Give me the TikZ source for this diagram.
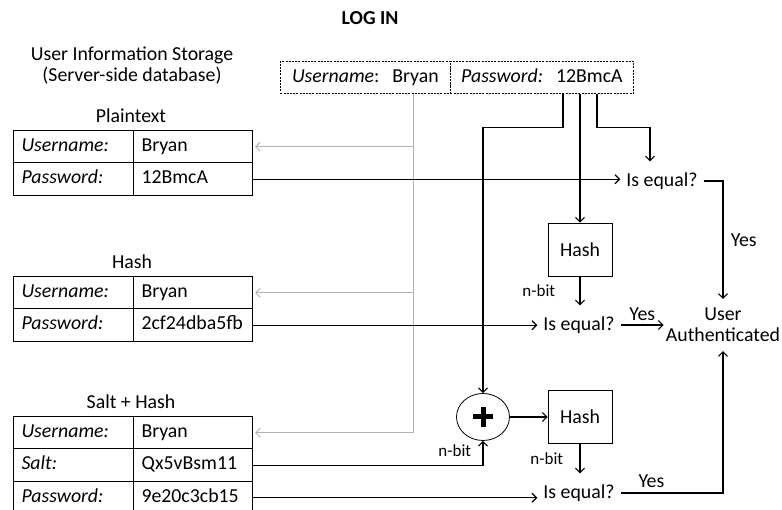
\documentclass[tikz,border=0pt]{standalone}
\usepackage{fontspec}
\setmainfont{Carlito}
\usetikzlibrary{arrows.meta}
\usetikzlibrary{shapes.geometric}
\usetikzlibrary{calc}
\newcommand{\bigfont}{\fontsize{19.8}{21}\selectfont}
\newcommand{\smallfont}{\fontsize{17}{19}\selectfont}
\tikzset{
  cell/.style={draw, line width=1pt, anchor=north west, minimum height=32.5pt, inner xsep=8pt, inner ysep=0pt, text height=13.5pt, text depth=4pt, align=left, font=\bigfont},
  keycell/.style={cell, text width=104pt, font=\bigfont\itshape},
  valcell/.style={cell, text width=103pt},
  login/.style={draw, line width=0.8pt, dash pattern=on 2pt off 1.2pt, anchor=north west, minimum height=32pt, inner sep=0pt, text height=13.5pt, text depth=4pt, font=\bigfont},
  hashbox/.style={draw, line width=0.8pt, minimum width=64pt, minimum height=53pt, font=\bigfont},
  check/.style={inner xsep=6pt, inner ysep=11pt, font=\bigfont},
  lbl/.style={font=\bigfont},
  bits/.style={font=\smallfont},
  conn/.style={line width=1.1pt},
  arr/.style={conn, ->},
  grayarr/.style={line width=1pt, draw=black!30, ->, shorten >=2pt},
}

\begin{document}
\begin{tikzpicture}[x=1pt,y=-1pt,>={Straight Barb[length=4.5pt,width=9pt]}]
        \useasboundingbox (0,0) rectangle (782,510);

        %%% HEADINGS %%%
        \node[lbl, font=\bigfont\bfseries] (title) at (370,18) {LOG IN};
        \node[lbl, align=center] (store) at (132,66) {User Information Storage\\(Server-side database)};
        \node[lbl] (ptT) at (131,116) {Plaintext};
        \node[lbl] (hT) at (132,262) {Hash};
        \node[lbl] (shT) at (131,402) {Salt + Hash};

        %%% TABLES %%%
        \node[keycell] (ptUk) at (13,130) {Username:};
        \node[valcell] (ptUv) at (133,130) {Bryan};
        \node[keycell] (ptPk) at (13,162.5) {Password:};
        \node[valcell] (ptPv) at (133,162.5) {12BmcA};

        \node[keycell] (hUk) at (13,276) {Username:};
        \node[valcell] (hUv) at (133,276) {Bryan};
        \node[keycell] (hPk) at (13,308.5) {Password:};
        \node[valcell] (hPv) at (133,308.5) {2cf24dba5fb};

        \node[keycell] (shUk) at (13,416) {Username:};
        \node[valcell] (shUv) at (133,416) {Bryan};
        \node[keycell] (shSk) at (13,448.5) {Salt:};
        \node[valcell] (shSv) at (133,448.5) {Qx5vBsm11};
        \node[keycell] (shPk) at (13,481) {Password:};
        \node[valcell] (shPv) at (133,481) {9e20c3cb15};

        %%% LOGIN INPUT %%%
        \node[login, minimum width=170pt] (usr) at (280,61) {\textit{Username}:\hspace{13pt}Bryan};
        \node[login, minimum width=183pt] (pw) at (450,61) {\textit{Password:}\hspace{13pt}12BmcA};
        \coordinate (gtop) at ($(usr.south west)+(133,0)$);
        \coordinate (pa) at ($(pw.south west)+(113,0)$);
        \coordinate (pb) at ($(pw.south west)+(130,0)$);
        \coordinate (pc) at ($(pw.south west)+(147,0)$);

        %%% CHECKS %%%
        \node[check] (eq1) at (662,181) {Is equal?};
        \node[hashbox] (h1) at (580,249.5) {Hash};
        \node[check] (eq2) at (579,325) {Is equal?};
        \node[draw, line width=0.8pt, ellipse, minimum width=53pt, minimum height=47pt, inner sep=0pt] (plus) at (483,417) {};
        \draw[line width=5pt] ([xshift=-10pt]plus.center) -- ([xshift=10pt]plus.center);
        \draw[line width=5pt] ([yshift=-10pt]plus.center) -- ([yshift=10pt]plus.center);
        \node[hashbox] (h2) at (580,417) {Hash};
        \node[check] (eq3) at (579,493) {Is equal?};
        \node[lbl, align=center, inner xsep=2pt, inner ysep=9pt] (auth) at (723,325) {User\\Authenticated};

        %%% USERNAME LOOKUP %%%
        \draw[line width=1pt, black!30] (gtop) -- (gtop |- shUv.east);
        \foreach \row in {ptUv,hUv,shUv}
            \draw[grayarr] (gtop |- \row.east) -- (\row.east);

        %%% PASSWORD PATHS %%%
        \draw[arr] (pa) -- ++(0,34) -| (plus.north);
        \draw[arr] (pb) -- (h1.north);
        \draw[arr] (pc) -- ++(0,34) -| ([xshift=-12pt]eq1.north);
        \draw[arr] (ptPv.east) -- (ptPv.east -| eq1.west);
        \draw[arr] (hPv.east) -- (hPv.east -| eq2.west);
        \draw[arr] (shPv.east) -- (shPv.east -| eq3.west);
        \draw[arr] (shSv.east) -| node[bits, pos=0.8, left=8pt]{n-bit} (plus.south);
        \draw[arr] (plus.east) -- (h2.west);
        \draw[arr] (h1.south) -- node[bits, left=21pt]{n-bit} (h1.south |- eq2.north);
        \draw[arr] (h2.south) -- node[bits, left=13pt]{n-bit} (h2.south |- eq3.north);

        %%% RESULT %%%
        \draw[arr] (eq1.east) -| node[lbl, pos=0.75, right=4pt]{Yes} (auth.north);
        \draw[arr] (eq2.east) -- node[lbl, above]{Yes} (eq2.east -| auth.west);
        \draw[arr] (eq3.east) -| node[lbl, pos=0.15, above=1pt]{Yes} (auth.south);
    \end{tikzpicture}
\end{document}
